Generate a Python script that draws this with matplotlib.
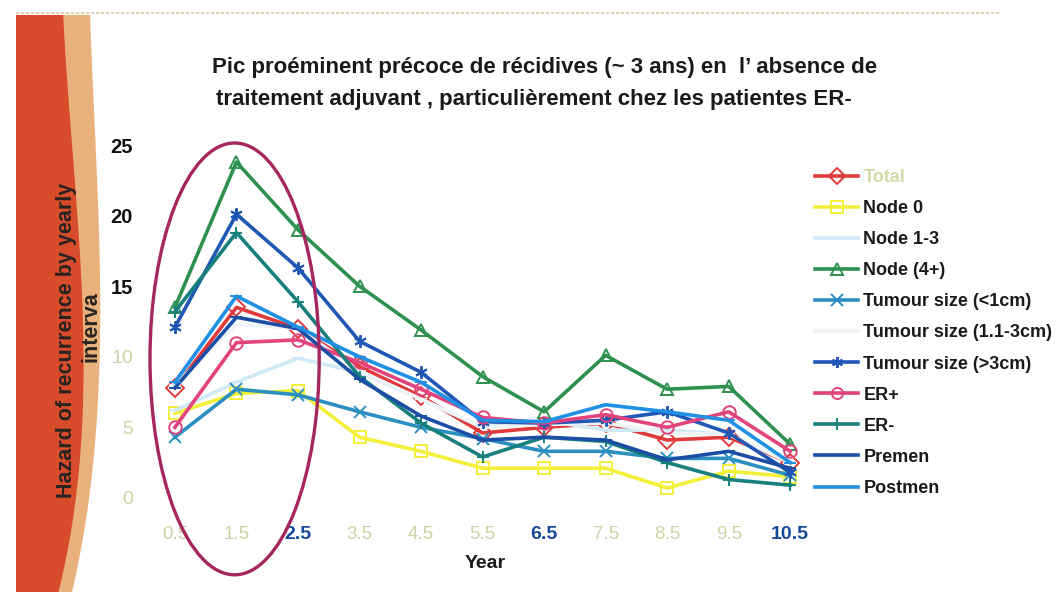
import numpy as np
import matplotlib
matplotlib.use('Agg')
import matplotlib.pyplot as plt
from matplotlib.patches import Polygon, Ellipse

plt.rcParams['font.family'] = ['Liberation Sans', 'DejaVu Sans']

#==============================================================================
# DATA
#==============================================================================

years = [0.5, 1.5, 2.5, 3.5, 4.5, 5.5, 6.5, 7.5, 8.5, 9.5, 10.5]
year_labels = ['0.5', '1.5', '2.5', '3.5', '4.5', '5.5', '6.5', '7.5', '8.5', '9.5', '10.5']
y_ticks = [0, 5, 10, 15, 20, 25]

total    = [7.8, 13.5, 12.0, 9.3, 7.2, 4.6, 5.0, 5.3, 4.1, 4.3, 2.5]
node0    = [6.0, 7.4, 7.6, 4.3, 3.3, 2.1, 2.1, 2.1, 0.7, 1.9, 1.5]
node13   = [6.2, 8.2, 9.9, 8.9, 7.0, 5.0, 5.5, 4.8, 4.8, 4.5, 2.5]
node4    = [13.5, 23.8, 19.0, 15.0, 11.9, 8.6, 6.1, 10.1, 7.7, 7.9, 3.8]
t_lt1    = [4.3, 7.7, 7.3, 6.1, 5.0, 4.2, 3.3, 3.3, 2.8, 2.8, 1.6]
t_mid    = [8.0, 12.3, 12.0, 9.0, 7.0, 5.0, 5.2, 5.3, 4.6, 4.5, 2.5]
t_gt3    = [12.1, 20.1, 16.3, 11.1, 8.9, 5.4, 5.3, 5.5, 6.1, 4.6, 1.8]
er_pos   = [5.0, 11.0, 11.2, 9.6, 7.7, 5.7, 5.3, 5.9, 5.0, 6.1, 3.3]
er_neg   = [13.2, 18.8, 13.9, 8.6, 5.3, 2.9, 4.3, 4.0, 2.5, 1.3, 0.9]
premen   = [7.8, 12.8, 12.0, 8.4, 5.8, 4.1, 4.3, 4.1, 2.7, 3.3, 2.1]
postmen  = [8.2, 14.3, 12.1, 10.0, 8.2, 5.5, 5.4, 6.6, 6.1, 5.5, 2.5]

series = [
    ('Total',                 total,   '#e03a3a', 'D'),
    ('Node 0',                node0,   '#f3f03a', 's'),
    ('Node 1-3',              node13,  '#cfe9f6', '_'),
    ('Node (4+)',             node4,   '#2f9150', '^'),
    ('Tumour size (<1cm)',    t_lt1,   '#2b8fc2', 'x'),
    ('Tumour size (1.1-3cm)', t_mid,   '#eef3f5', '_'),
    ('Tumour size (>3cm)',    t_gt3,   '#2056b4', (6, 2, 0)),
    ('ER+',                   er_pos,  '#e2437c', 'o'),
    ('ER-',                   er_neg,  '#18807c', '+'),
    ('Premen',                premen,  '#1c4ea6', '_'),
    ('Postmen',               postmen, '#1f90e2', '_'),
]

W, H = 1057, 592
fig = plt.figure(figsize=(W / 100, H / 100), dpi=100)

def fx(px):
    return px / W

def fy(py):
    return 1 - py / H

#==============================================================================
# LEFT ORANGE BAND (slide decoration)
#==============================================================================

ys_ctrl  = np.array([15, 150, 300, 400, 492, 592])
red_edge = np.polyfit(ys_ctrl, [63, 73, 82, 82, 78, 58], 3)
tan_edge = np.polyfit(ys_ctrl, [90, 96, 100, 98, 90, 72], 3)
yy = np.linspace(15, 592, 80)
red_x = np.polyval(red_edge, yy)
tan_x = np.polyval(tan_edge, yy)

tan_pts = [(fx(x), fy(y)) for x, y in zip(red_x - 5, yy)] + \
          [(fx(x), fy(y)) for x, y in zip(tan_x[::-1], yy[::-1])]
red_pts = [(fx(16), fy(15))] + [(fx(x), fy(y)) for x, y in zip(red_x, yy)] + \
          [(fx(16), fy(592))]
fig.patches.append(Polygon(tan_pts, closed=True, transform=fig.transFigure,
                           facecolor='#e9b17c', edgecolor='none', zorder=0))
fig.patches.append(Polygon(red_pts, closed=True, transform=fig.transFigure,
                           facecolor='#d84b2b', edgecolor='none', zorder=0))
fig.add_artist(plt.Line2D([fx(16), fx(1000)], [fy(13), fy(13)],
                          transform=fig.transFigure, color='#d9c7a8',
                          linewidth=1.2, linestyle=(0, (2, 1))))

#==============================================================================
# AXES
#==============================================================================

ax = fig.add_axes([fx(138), fy(512), fx(821) - fx(138), fy(131) - fy(512)])
ax.set_xlim(-0.1, 11.0)
ax.set_ylim(-1, 26)
ax.patch.set_alpha(0)
for sp in ax.spines.values():
    sp.set_visible(False)
ax.tick_params(length=0)
ax.tick_params(axis='x', pad=10)
ax.tick_params(axis='y', pad=3.6)

for name, vals, col, mk in series:
    ax.plot(years, vals, color=col, linewidth=2.6, marker=mk, markersize=9,
            markerfacecolor='none', markeredgecolor=col, markeredgewidth=1.4,
            label=name, zorder=3)

ax.set_xticks(years)
ax.set_xticklabels(year_labels)
bold_x = ['2.5', '6.5', '10.5']
for lab in ax.get_xticklabels():
    if lab.get_text() in bold_x:
        lab.set_color('#17499a')
        lab.set_fontweight('bold')
        lab.set_fontsize(14)
    else:
        lab.set_color('#cdd3a6')
        lab.set_fontsize(13.5)

ax.set_yticks(y_ticks)
ax.set_yticklabels([str(v) for v in y_ticks])
for lab in ax.get_yticklabels():
    if int(lab.get_text()) >= 15:
        lab.set_color('#111111')
        lab.set_fontweight('bold')
        lab.set_fontsize(14.5)
    else:
        lab.set_color('#cdd3a6')
        lab.set_fontsize(14)

# highlight ellipse around the early peak
ax.add_patch(Ellipse((1.47, 9.85), 2.75, 30.6, angle=0, fill=False,
                     edgecolor='#a6265e', linewidth=2.4, clip_on=False,
                     zorder=4))

#==============================================================================
# TEXT
#==============================================================================

fig.text(fx(545), fy(68), "Pic proéminent précoce de récidives (~ 3 ans) en  l\u2019 absence de",
         ha='center', va='center', fontsize=16, fontweight='bold', color='#1a1a1a')
fig.text(fx(534), fy(100), "traitement adjuvant , particulièrement chez les patientes ER-",
         ha='center', va='center', fontsize=16, fontweight='bold', color='#1a1a1a')
fig.text(fx(485), fy(563), 'Year', ha='center', va='center', fontsize=14,
         fontweight='bold', color='#1a1a1a')
fig.text(fx(67), fy(340), 'Hazard of recurrence by yearly', rotation=90,
         ha='center', va='center', fontsize=15.5, fontweight='bold', color='#2a2320')
fig.text(fx(91), fy(327), 'interva', rotation=90,
         ha='center', va='center', fontsize=15.5, fontweight='bold', color='#2a2320')

#==============================================================================
# LEGEND
#==============================================================================

leg = ax.legend(loc='upper left', bbox_to_anchor=(fx(815), fy(169)),
                bbox_transform=fig.transFigure, frameon=False,
                borderaxespad=0, borderpad=0,
                handlelength=2.4, handletextpad=0.28, labelspacing=0.78,
                prop={'weight': 'bold', 'size': 13})
for txt in leg.get_texts():
    txt.set_color('#d4d9a8' if txt.get_text() == 'Total' else '#1a1a1a')
for h in leg.legend_handles:
    h.set_markersize(8)

plt.savefig('out.png', dpi=100)
